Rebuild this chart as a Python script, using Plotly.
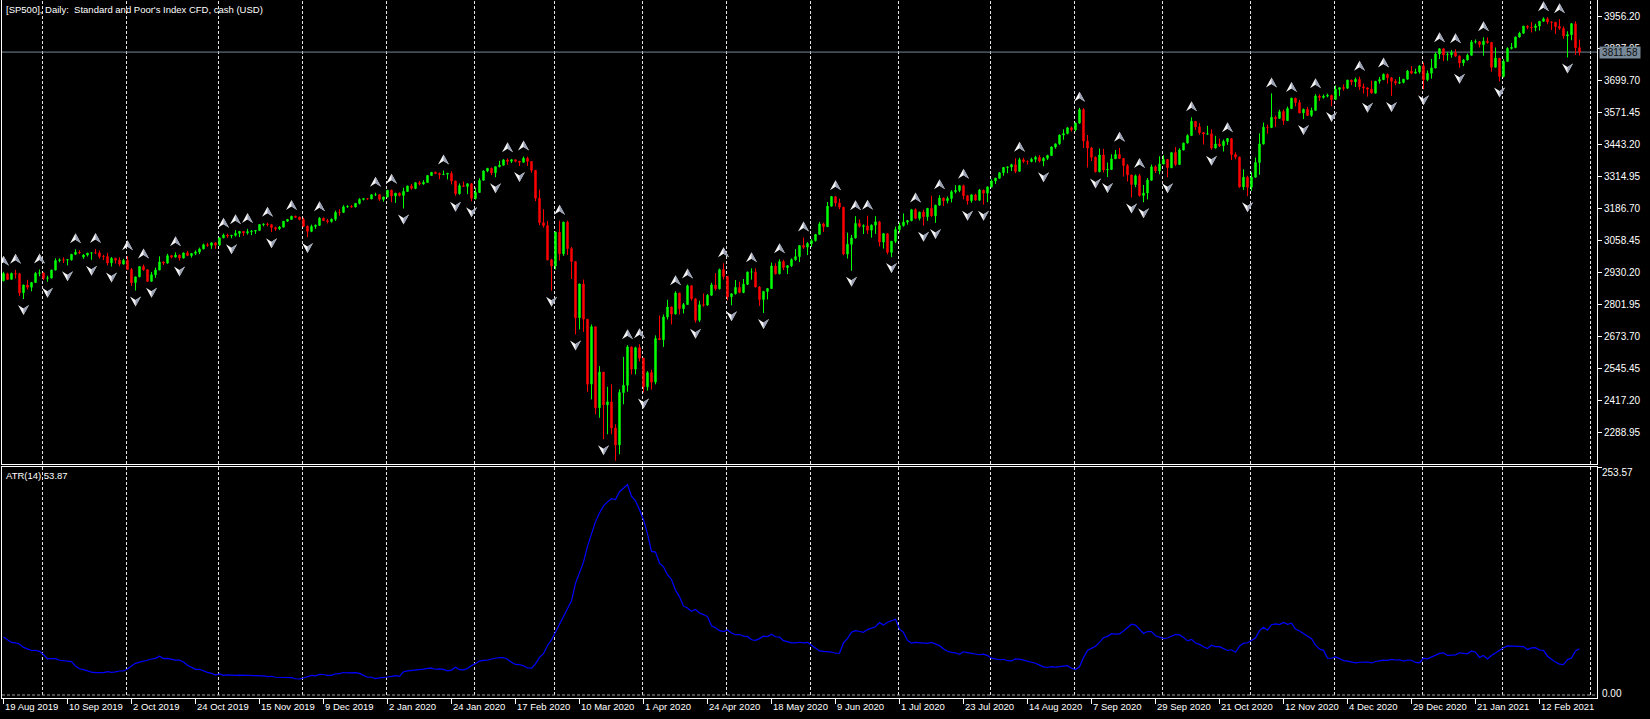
import pandas as pd
import plotly.graph_objects as go

# ---------------- data ----------------
closed_days = ["2019-12-25", "2020-01-01", "2020-04-10", "2020-12-25", "2021-01-01"]
dates = [d for d in pd.bdate_range("2019-07-31", "2021-02-26") if d.strftime("%Y-%m-%d") not in closed_days]
first_visible = dates.index(pd.Timestamp("2019-08-19"))
bar_x = [i - first_visible for i in range(len(dates))]

opens = [
    3013, 2980, 2950, 2932, 2845, 2882, 2884, 2938, 2919, 2883, 2926, 2841, 2848,  # Jul31-Aug16 2019
    2895, 2923, 2901, 2924, 2923, 2847, 2878, 2869, 2888, 2925,  # Aug 2019
    2926, 2905, 2906, 2938, 2976, 2979, 2978, 2979, 3001, 3010, 2990, 2998, 3006, 3007, 3007, 2992, 2992, 2967, 2985, 2978, 2962,  # Sep
    2977, 2940, 2888, 2911, 2952, 2939, 2893, 2919, 2938, 2970, 2966, 2996, 2990, 2998, 2986, 3007, 2996, 3005, 3010, 3023, 3039, 3037, 3047,  # Oct
    3038, 3067, 3078, 3075, 3077, 3085, 3093, 3087, 3092, 3094, 3097, 3120, 3122, 3120, 3108, 3104, 3110, 3134, 3141, 3154, 3150,  # Nov
    3141, 3114, 3093, 3113, 3117, 3146, 3136, 3133, 3142, 3169, 3169, 3191, 3193, 3191, 3205, 3221, 3224, 3223, 3240, 3240, 3221,  # Dec
    3231, 3258, 3235, 3246, 3237, 3253, 3275, 3265, 3288, 3283, 3289, 3317, 3330, 3325, 3321, 3322, 3325, 3295, 3244, 3276, 3273, 3284,  # Jan 2020
    3225, 3249, 3298, 3335, 3346, 3328, 3352, 3358, 3379, 3374, 3380, 3374, 3370, 3386, 3373, 3338, 3226, 3128, 3116, 2979,  # Feb
    2954, 3090, 3003, 3130, 3024, 2972, 2747, 2882, 2741, 2481, 2711, 2386, 2529, 2398, 2409, 2305, 2237, 2447, 2476, 2630, 2541, 2627,  # Mar
    2585, 2470, 2527, 2489, 2664, 2659, 2750, 2790, 2762, 2846, 2783, 2800, 2875, 2823, 2737, 2799, 2798, 2837, 2878, 2863, 2940,  # Apr
    2912, 2831, 2843, 2868, 2848, 2881, 2930, 2930, 2870, 2820, 2852, 2864, 2954, 2923, 2972, 2948, 2955, 2980, 2992, 3036, 3030,  # May
    3044, 3056, 3081, 3123, 3112, 3194, 3232, 3207, 3190, 3002, 3041, 3067, 3125, 3113, 3115, 3098, 3118, 3131, 3050, 3084, 3009, 3053,  # Jun
    3100, 3116, 3130, 3136, 3180, 3145, 3170, 3152, 3185, 3155, 3198, 3227, 3216, 3225, 3252, 3257, 3276, 3236, 3216, 3239, 3218, 3258, 3246,  # Jul
    3271, 3295, 3306, 3328, 3349, 3351, 3360, 3334, 3380, 3373, 3373, 3382, 3390, 3375, 3386, 3397, 3431, 3444, 3479, 3485, 3508,  # Aug
    3500, 3527, 3581, 3455, 3427, 3390, 3332, 3399, 3339, 3341, 3384, 3401, 3385, 3357, 3319, 3281, 3316, 3237, 3247, 3298, 3352, 3335,  # Sep
    3363, 3381, 3348, 3409, 3361, 3419, 3447, 3477, 3534, 3512, 3489, 3483, 3484, 3427, 3443, 3436, 3453, 3465, 3401, 3391, 3271, 3310,  # Oct
    3270, 3310, 3369, 3443, 3510, 3509, 3550, 3546, 3573, 3537, 3585, 3627, 3610, 3568, 3582, 3558, 3578, 3635, 3630, 3635, 3638,  # Nov
    3622, 3662, 3669, 3667, 3699, 3692, 3702, 3673, 3668, 3663, 3647, 3695, 3701, 3722, 3709, 3695, 3687, 3690, 3703, 3735, 3727, 3732,  # Dec
    3756, 3701, 3727, 3748, 3804, 3825, 3800, 3801, 3810, 3796, 3768, 3780, 3799, 3852, 3853, 3841, 3855, 3850, 3751, 3787,  # Jan 2021
    3714, 3774, 3826, 3830, 3872, 3887, 3915, 3911, 3910, 3916, 3935, 3945, 3932, 3931, 3914, 3906, 3876, 3881, 3925, 3829,  # Feb
]
highs = [
    3017, 3013, 2955, 2935, 2885, 2892, 2939, 2940, 2920, 2943, 2927, 2857, 2893,
    2931, 2927, 2928, 2939, 2927, 2879, 2899, 2890, 2930, 2940,
    2929, 2915, 2939, 2985, 2985, 2989, 2980, 3001, 3021, 3017, 3002, 3007, 3008, 3022, 3016, 2999, 3007, 2990, 2987, 2989, 2983,
    2993, 2946, 2911, 2953, 2960, 2941, 2930, 2948, 2993, 2972, 3003, 2997, 3009, 3000, 3008, 3015, 3005, 3017, 3028, 3044, 3047, 3050, 3050,
    3067, 3084, 3084, 3079, 3098, 3094, 3094, 3103, 3098, 3098, 3121, 3124, 3128, 3122, 3112, 3114, 3134, 3143, 3155, 3155, 3152,
    3148, 3116, 3120, 3120, 3150, 3148, 3143, 3145, 3176, 3182, 3198, 3198, 3199, 3206, 3226, 3227, 3226, 3240, 3248, 3241, 3232,
    3258, 3260, 3247, 3249, 3268, 3276, 3283, 3289, 3295, 3298, 3317, 3330, 3332, 3329, 3337, 3327, 3334, 3296, 3285, 3293, 3286, 3286,
    3268, 3306, 3337, 3347, 3348, 3353, 3376, 3382, 3386, 3381, 3381, 3375, 3393, 3393, 3374, 3338, 3260, 3182, 3135, 2983,
    3091, 3136, 3131, 3136, 3030, 2972, 2883, 2900, 2741, 2720, 2711, 2553, 2530, 2470, 2480, 2320, 2460, 2590, 2637, 2631, 2631, 2641,
    2585, 2533, 2538, 2676, 2756, 2760, 2819, 2792, 2853, 2846, 2806, 2880, 2875, 2824, 2815, 2844, 2842, 2887, 2926, 2944, 2965,
    2913, 2844, 2898, 2891, 2902, 2932, 2945, 2945, 2874, 2853, 2865, 2968, 2965, 2981, 2979, 2956, 2985, 3022, 3036, 3068, 3050,
    3062, 3081, 3131, 3128, 3211, 3233, 3234, 3224, 3191, 3088, 3079, 3154, 3141, 3121, 3156, 3121, 3154, 3135, 3086, 3086, 3054, 3112,
    3128, 3165, 3139, 3183, 3185, 3172, 3180, 3187, 3236, 3200, 3238, 3228, 3233, 3258, 3278, 3279, 3280, 3237, 3241, 3244, 3263, 3260, 3273,
    3302, 3307, 3331, 3351, 3353, 3364, 3386, 3388, 3388, 3378, 3388, 3396, 3399, 3391, 3400, 3433, 3445, 3482, 3502, 3510, 3514,
    3529, 3588, 3587, 3479, 3432, 3394, 3425, 3424, 3369, 3402, 3419, 3428, 3387, 3363, 3320, 3321, 3323, 3279, 3307, 3361, 3358, 3394,
    3398, 3382, 3409, 3431, 3426, 3449, 3482, 3550, 3535, 3527, 3491, 3516, 3502, 3476, 3465, 3461, 3466, 3466, 3410, 3392, 3342, 3316,
    3330, 3389, 3486, 3529, 3521, 3646, 3557, 3581, 3581, 3593, 3628, 3628, 3620, 3585, 3592, 3589, 3643, 3642, 3642, 3645, 3641,
    3678, 3670, 3682, 3700, 3701, 3709, 3713, 3685, 3670, 3697, 3695, 3712, 3726, 3726, 3711, 3703, 3712, 3703, 3740, 3756, 3745, 3760,
    3770, 3738, 3784, 3811, 3827, 3826, 3811, 3820, 3823, 3798, 3784, 3805, 3860, 3862, 3856, 3871, 3870, 3851, 3830, 3788,
    3784, 3831, 3848, 3873, 3893, 3916, 3919, 3932, 3925, 3936, 3951, 3951, 3934, 3932, 3943, 3915, 3895, 3928, 3935, 3862,
]
lows = [
    2945, 2945, 2914, 2822, 2776, 2825, 2882, 2899, 2877, 2862, 2836, 2825, 2847,
    2893, 2899, 2900, 2904, 2834, 2822, 2860, 2853, 2886, 2913,
    2898, 2891, 2905, 2937, 2969, 2966, 2957, 2976, 2998, 3002, 2983, 2992, 2979, 3003, 2984, 2978, 2957, 2952, 2964, 2953, 2960,
    2938, 2874, 2856, 2909, 2936, 2892, 2891, 2907, 2938, 2958, 2963, 2985, 2988, 2976, 2985, 2994, 2988, 2998, 3002, 3021, 3031, 3023, 3023,
    3034, 3066, 3067, 3065, 3072, 3070, 3075, 3080, 3078, 3083, 3096, 3113, 3113, 3090, 3095, 3098, 3110, 3131, 3139, 3147, 3137,
    3110, 3070, 3090, 3103, 3115, 3135, 3125, 3128, 3135, 3156, 3168, 3188, 3188, 3189, 3201, 3217, 3220, 3223, 3235, 3215, 3212,
    3230, 3210, 3207, 3233, 3185, 3252, 3260, 3262, 3277, 3280, 3288, 3315, 3322, 3302, 3318, 3301, 3281, 3236, 3240, 3271, 3242, 3214,
    3220, 3248, 3297, 3330, 3318, 3310, 3350, 3357, 3360, 3367, 3370, 3355, 3369, 3355, 3328, 3214, 3118, 3108, 2977, 2855,
    2940, 2976, 2995, 2999, 2902, 2680, 2700, 2690, 2450, 2420, 2360, 2346, 2260, 2280, 2280, 2174, 2200, 2400, 2450, 2520, 2520, 2572,
    2447, 2455, 2459, 2480, 2657, 2630, 2740, 2720, 2760, 2760, 2764, 2798, 2816, 2727, 2730, 2791, 2794, 2835, 2856, 2860, 2900,
    2817, 2797, 2840, 2845, 2845, 2878, 2900, 2869, 2794, 2766, 2820, 2862, 2920, 2921, 2938, 2922, 2950, 2975, 2970, 3023, 2998,
    3031, 3052, 3080, 3091, 3110, 3193, 3193, 3182, 2997, 2984, 2935, 3064, 3108, 3082, 3083, 3068, 3083, 3033, 3024, 3001, 2990, 3046,
    3088, 3112, 3120, 3134, 3142, 3137, 3116, 3135, 3152, 3127, 3196, 3195, 3205, 3209, 3245, 3250, 3221, 3200, 3208, 3216, 3216, 3200, 3210,
    3270, 3283, 3304, 3316, 3326, 3335, 3326, 3332, 3367, 3361, 3370, 3370, 3369, 3354, 3379, 3396, 3424, 3440, 3460, 3482, 3493,
    3494, 3524, 3427, 3349, 3375, 3329, 3330, 3329, 3311, 3340, 3384, 3383, 3313, 3293, 3229, 3270, 3232, 3210, 3221, 3297, 3327, 3322,
    3362, 3310, 3348, 3355, 3360, 3418, 3445, 3476, 3500, 3480, 3441, 3480, 3420, 3425, 3431, 3413, 3440, 3379, 3382, 3268, 3259, 3234,
    3255, 3309, 3320, 3442, 3484, 3508, 3511, 3544, 3520, 3536, 3584, 3594, 3567, 3543, 3556, 3552, 3576, 3616, 3625, 3630, 3595,
    3620, 3635, 3657, 3664, 3679, 3672, 3660, 3645, 3633, 3645, 3646, 3685, 3700, 3685, 3636, 3678, 3684, 3686, 3702, 3723, 3726, 3725,
    3663, 3695, 3705, 3747, 3784, 3775, 3777, 3789, 3792, 3749, 3756, 3778, 3797, 3846, 3830, 3797, 3845, 3733, 3750, 3694,
    3710, 3772, 3822, 3827, 3870, 3886, 3903, 3890, 3895, 3898, 3933, 3923, 3900, 3884, 3900, 3865, 3790, 3859, 3800, 3798,
]
closes = [
    2980, 2954, 2932, 2845, 2882, 2884, 2938, 2919, 2883, 2926, 2841, 2848, 2889,
    2924, 2900.5, 2924.4, 2923, 2847, 2878, 2869, 2888, 2924.6, 2926.5,
    2905, 2906, 2937.8, 2976, 2978.7, 2978.4, 2979.4, 3000.9, 3009.6, 3007.4, 2998, 3005.7, 3006.7, 3006.8, 2992, 2991.8, 2966.6, 2984.9, 2977.6, 2961.8, 2976.7,
    2940.3, 2887.6, 2910.6, 2952, 2938.8, 2893, 2919.4, 2938.1, 2970.3, 2966.2, 2995.7, 2989.7, 2998, 2986.2, 3006.7, 2996, 3004.5, 3010.3, 3022.6, 3039.4, 3036.9, 3046.8, 3037.6,
    3066.9, 3078.3, 3074.6, 3076.8, 3085.2, 3093.1, 3087, 3091.8, 3094, 3096.6, 3120.5, 3122, 3120.2, 3108.5, 3103.5, 3110.3, 3133.6, 3140.5, 3153.6, 3150, 3141,
    3113.9, 3093.2, 3112.8, 3117.4, 3145.9, 3136, 3132.5, 3141.6, 3168.6, 3168.8, 3191.5, 3192.5, 3191.1, 3205.4, 3221.2, 3224, 3223.4, 3239.9, 3240, 3221.3, 3230.8,
    3257.9, 3234.9, 3246.3, 3237.2, 3253, 3274.7, 3265.4, 3288.1, 3283.2, 3289.3, 3316.8, 3329.6, 3325, 3320.8, 3321.8, 3325.5, 3295.5, 3243.6, 3276.2, 3273.4, 3283.7, 3225.5,
    3248.9, 3297.6, 3334.7, 3345.8, 3327.7, 3352.1, 3357.8, 3379.5, 3373.9, 3380.2, 3374, 3370.3, 3386.2, 3373.2, 3337.8, 3225.9, 3128.2, 3116.4, 2978.8, 2954.2,
    3090.2, 3003.4, 3130.1, 3023.9, 2972.4, 2746.6, 2882.2, 2741.4, 2480.6, 2711, 2386.1, 2529.2, 2398.1, 2409.4, 2304.9, 2237.4, 2447.3, 2475.6, 2630.1, 2541.5, 2626.7, 2584.6,
    2470.5, 2526.9, 2488.7, 2663.7, 2659.4, 2750, 2789.8, 2761.6, 2846.1, 2783.4, 2799.6, 2874.6, 2823.2, 2736.6, 2799.3, 2797.8, 2836.7, 2878.5, 2863.4, 2939.5, 2912.4,
    2830.7, 2842.7, 2868.4, 2848.4, 2881.2, 2929.8, 2930.3, 2870.1, 2820, 2852.5, 2863.7, 2953.9, 2922.9, 2971.6, 2948.5, 2955.5, 2980, 2991.8, 3036.1, 3029.7, 3044.3,
    3055.7, 3080.8, 3122.9, 3112.4, 3193.9, 3232.4, 3207.2, 3190.1, 3002.1, 3041.3, 3066.6, 3124.7, 3113.5, 3115.3, 3097.7, 3117.9, 3131.3, 3050.3, 3083.8, 3009.1, 3053.2, 3100.3,
    3115.9, 3130, 3136, 3179.7, 3145.3, 3169.9, 3152.1, 3185, 3155.2, 3197.5, 3226.6, 3215.6, 3224.7, 3251.8, 3257.3, 3276, 3235.7, 3215.6, 3239.4, 3218.4, 3258.4, 3246.2, 3271.1,
    3294.6, 3306.5, 3327.8, 3349.2, 3351.3, 3360.5, 3333.7, 3380.4, 3373.4, 3372.9, 3382, 3389.8, 3374.9, 3385.5, 3397.2, 3431.3, 3443.6, 3478.7, 3484.6, 3508, 3500.3,
    3526.7, 3580.8, 3455.1, 3427, 3390, 3331.8, 3399, 3339.2, 3341, 3383.5, 3401.2, 3385.5, 3357, 3319.5, 3281.1, 3315.6, 3236.9, 3246.6, 3298.5, 3351.6, 3335.5, 3363,
    3380.8, 3348.4, 3408.6, 3361, 3419.4, 3446.8, 3477.1, 3534.2, 3511.9, 3488.7, 3483.3, 3483.8, 3426.9, 3443.1, 3435.6, 3453.5, 3465.4, 3401, 3390.7, 3271, 3310.1, 3270,
    3310.2, 3369.2, 3443.4, 3510.5, 3509.4, 3550.5, 3545.5, 3572.7, 3537, 3585.2, 3626.9, 3609.5, 3567.8, 3581.9, 3557.5, 3577.6, 3635.4, 3629.7, 3635, 3638.4, 3621.6,
    3662.5, 3669, 3666.7, 3699.1, 3692, 3702.3, 3672.8, 3668.1, 3663.5, 3647.5, 3694.6, 3701.2, 3722.5, 3709.4, 3694.9, 3687.3, 3690, 3703.1, 3735.4, 3727, 3732, 3756.1,
    3700.7, 3726.9, 3748.1, 3803.8, 3824.7, 3799.6, 3801.2, 3809.8, 3795.5, 3768.3, 3780, 3798.9, 3851.9, 3853.1, 3841.5, 3855.4, 3849.6, 3750.8, 3787.4, 3714.2,
    3773.9, 3826.3, 3830.2, 3871.7, 3886.8, 3915.6, 3911.2, 3909.9, 3916.4, 3934.8, 3945, 3932.6, 3931.3, 3914, 3906.7, 3876.5, 3881.4, 3925.4, 3829.3, 3811.6,
]

date_tick_labels = ["19 Aug 2019", "10 Sep 2019", "2 Oct 2019", "24 Oct 2019", "15 Nov 2019", "9 Dec 2019",
                    "2 Jan 2020", "24 Jan 2020", "17 Feb 2020", "10 Mar 2020", "1 Apr 2020", "24 Apr 2020",
                    "18 May 2020", "9 Jun 2020", "1 Jul 2020", "23 Jul 2020", "14 Aug 2020", "7 Sep 2020",
                    "29 Sep 2020", "21 Oct 2020", "12 Nov 2020", "4 Dec 2020", "29 Dec 2020", "21 Jan 2021",
                    "12 Feb 2021"]
price_tick_values = [3956.20, 3827.95, 3699.70, 3571.45, 3443.20, 3314.95, 3186.70, 3058.45,
                     2930.20, 2801.95, 2673.70, 2545.45, 2417.20, 2288.95]
price_tick_labels = ["3956.20", "3827.95", "3699.70", "3571.45", "3443.20", "3314.95", "3186.70", "3058.45",
                     "2930.20", "2801.95", "2673.70", "2545.45", "2417.20", "2288.95"]
last_price = 3811.58
atr_period = 14
atr_top = 253.57
title_text = "[SP500], Daily:\u00a0 Standard and Poor's Index CFD, cash (USD)"
atr_label = "ATR(14) 53.87"

n = len(dates)
assert len(opens) == len(highs) == len(lows) == len(closes) == n

# ---------------- indicators ----------------
tr = [highs[0] - lows[0]]
for i in range(1, n):
    pc = closes[i - 1]
    tr.append(max(highs[i], pc) - min(lows[i], pc))
atr = pd.Series(tr).rolling(atr_period).mean().tolist()

up_frac, dn_frac = [], []
for i in range(2, n - 2):
    if highs[i] > highs[i - 1] and highs[i] > highs[i - 2] and highs[i] >= highs[i + 1] and highs[i] >= highs[i + 2]:
        up_frac.append(i)
    if lows[i] < lows[i - 1] and lows[i] < lows[i - 2] and lows[i] <= lows[i + 1] and lows[i] <= lows[i + 2]:
        dn_frac.append(i)

tick_pos = [dates.index(pd.Timestamp(lbl)) - first_visible for lbl in date_tick_labels]
month_start = [bar_x[i] for i in range(1, n) if dates[i].month != dates[i - 1].month]
# next month boundary projected in calendar days beyond the last bar
month_start.append(bar_x[-1] + (pd.Timestamp("2021-03-01") - dates[-1]).days)

# ---------------- figure ----------------
W, H = 1650, 719
L_M, R_M, T_M, B_M = 2, 53, 0, 21
plot_h = H - T_M - B_M
price_dom = [(plot_h - 464) / plot_h, 1.0]
atr_dom = [0.0, (plot_h - 467) / plot_h]
x_range = [-0.375, 398.375]
price_range = [2160.7, 4020.33]
atr_range = [-3.34, atr_top]

FONT = "Liberation Sans, Arial, sans-serif"
AX_FS = 10
TXT_FS = 9.5
fig = go.Figure()
fig.add_trace(go.Candlestick(
    x=bar_x, open=opens, high=highs, low=lows, close=closes,
    increasing=dict(line=dict(color="#00ff00", width=1), fillcolor="#00ff00"),
    decreasing=dict(line=dict(color="#ff0000", width=1), fillcolor="#ff0000"),
    whiskerwidth=0, hoverinfo="skip", xaxis="x", yaxis="y", showlegend=False))
fig.add_trace(go.Scatter(
    x=bar_x, y=atr, mode="lines", line=dict(color="#0000ff", width=1.2),
    hoverinfo="skip", xaxis="x2", yaxis="y2", showlegend=False))

shapes = []
grid_style = dict(color="#e6e6e6", width=1, dash="3px,2px")
for m in month_start:
    gx = m - 0.25
    shapes.append(dict(type="line", xref="x", yref="y domain", x0=gx, x1=gx, y0=0, y1=1,
                       line=grid_style, layer="below"))
    shapes.append(dict(type="line", xref="x2", yref="y2 domain", x0=gx, x1=gx, y0=3 / 231, y1=1,
                       line=grid_style, layer="below"))
shapes.append(dict(type="line", xref="x2 domain", yref="y2", x0=0, x1=1, y0=0, y1=0,
                   line=dict(color="#9a9a9a", width=1, dash="3px,2px"), layer="below"))
shapes.append(dict(type="line", xref="x domain", yref="y", x0=0, x1=1, y0=last_price, y1=last_price,
                   line=dict(color="#778899", width=1), layer="below"))

UP_FULL, UP_HALF = "M0,16 L5.5,6 L0,9.5 L-5.5,6 Z", "M0,16 L5.5,6 L0,9.5 Z"
DN_FULL, DN_HALF = "M0,-16 L5.5,-6 L0,-9.5 L-5.5,-6 Z", "M0,-16 L5.5,-6 L0,-9.5 Z"
for i in up_frac:
    for path, col in ((UP_FULL, "#f4f4f4"), (UP_HALF, "#9aa0b4")):
        shapes.append(dict(type="path", xref="x", yref="y", xsizemode="pixel", ysizemode="pixel",
                           xanchor=bar_x[i], yanchor=highs[i], path=path,
                           fillcolor=col, line=dict(width=0)))
for i in dn_frac:
    for path, col in ((DN_FULL, "#f4f4f4"), (DN_HALF, "#9aa0b4")):
        shapes.append(dict(type="path", xref="x", yref="y", xsizemode="pixel", ysizemode="pixel",
                           xanchor=bar_x[i], yanchor=lows[i], path=path,
                           fillcolor=col, line=dict(width=0)))

annotations = []
for pos, lbl in zip(tick_pos, date_tick_labels):
    annotations.append(dict(x=pos, xref="x2", y=0, yref="paper", xanchor="left", yanchor="top",
                            text=lbl, showarrow=False, xshift=-1, yshift=-1,
                            font=dict(family=FONT, size=TXT_FS, color="white")))
annotations.append(dict(x=0, xref="paper", y=1, yref="paper", xanchor="left", yanchor="top",
                        text=title_text, showarrow=False, xshift=2, yshift=-2,
                        font=dict(family=FONT, size=TXT_FS, color="white")))
annotations.append(dict(x=0, xref="paper", y=atr_top, yref="y2", xanchor="left", yanchor="top",
                        text=atr_label, showarrow=False, xshift=2, yshift=-1,
                        font=dict(family=FONT, size=TXT_FS, color="white")))
annotations.append(dict(x=1, xref="paper", y=atr_top, yref="y2", xanchor="left", yanchor="middle",
                        text="253.57", showarrow=False, xshift=3, yshift=-5,
                        font=dict(family=FONT, size=AX_FS, color="white")))
annotations.append(dict(x=1, xref="paper", y=0, yref="y2", xanchor="left", yanchor="middle",
                        text="0.00", showarrow=False, xshift=3, yshift=2,
                        font=dict(family=FONT, size=AX_FS, color="white")))
annotations.append(dict(x=1, xref="paper", y=last_price, yref="y", xanchor="left", yanchor="middle",
                        text="3811.58", showarrow=False, xshift=2, bgcolor="#778899", borderpad=0,
                        width=40, height=11, align="center",
                        font=dict(family=FONT, size=AX_FS, color="#101010")))

axis_common = dict(showline=True, mirror=True, linecolor="white", linewidth=1,
                   showgrid=False, zeroline=False, fixedrange=True)
fig.update_layout(
    width=W, height=H, margin=dict(l=L_M, r=R_M, t=T_M, b=B_M, pad=0),
    paper_bgcolor="black", plot_bgcolor="black", showlegend=False, hovermode=False,
    boxgap=0.5,
    font=dict(family=FONT, size=AX_FS, color="white"),
    xaxis=dict(domain=[0, 1], anchor="y", range=x_range, showticklabels=False, ticks="",
               rangeslider=dict(visible=False), **axis_common),
    yaxis=dict(domain=price_dom, anchor="x", side="right", range=price_range,
               tickmode="array", tickvals=price_tick_values, ticktext=price_tick_labels,
               ticks="outside", ticklen=4, tickcolor="white",
               tickfont=dict(family=FONT, size=AX_FS, color="white"), **axis_common),
    xaxis2=dict(domain=[0, 1], anchor="y2", matches="x", range=x_range,
                tickmode="array", tickvals=tick_pos, ticktext=[""] * len(tick_pos),
                ticks="outside", ticklen=5, tickcolor="white", **axis_common),
    yaxis2=dict(domain=atr_dom, anchor="x2", side="right", range=atr_range,
                tickmode="array", tickvals=[atr_top], ticktext=[""],
                ticks="outside", ticklen=4, tickcolor="white", **axis_common),
    shapes=shapes, annotations=annotations,
)

fig.write_html("out.html")
